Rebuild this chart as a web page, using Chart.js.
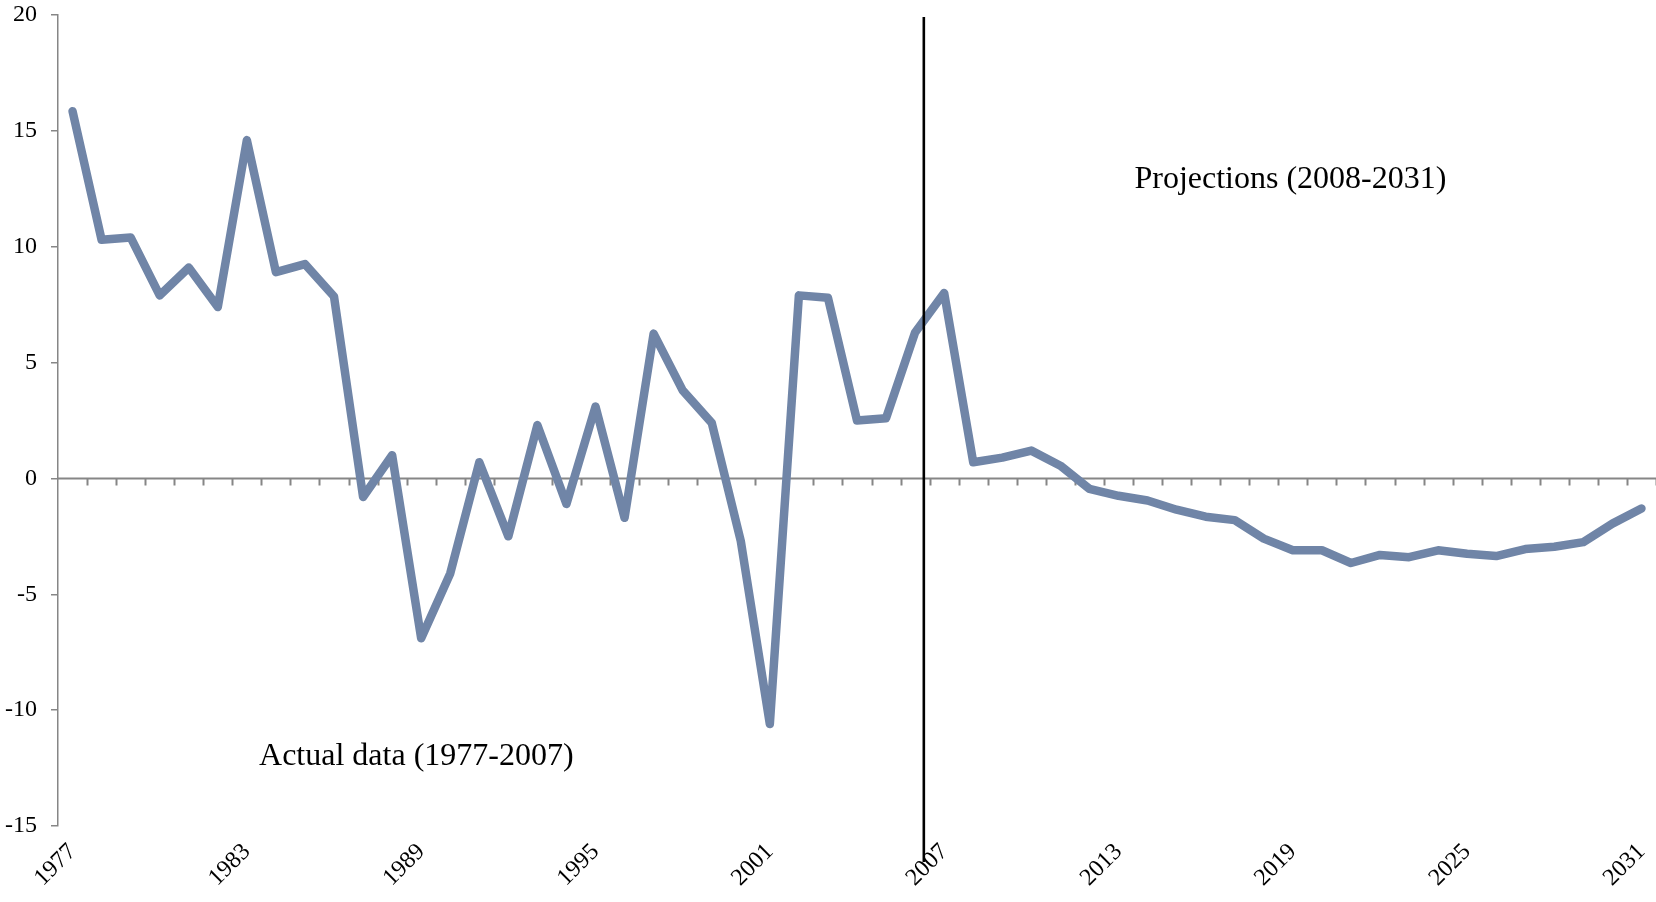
<!DOCTYPE html>
<html>
<head>
<meta charset="utf-8">
<script src="https://cdn.jsdelivr.net/npm/chart.js@4.4.1/dist/chart.umd.min.js"></script>
<style>
    html, body { margin: 0; padding: 0; background: #fff; }
    #chart { display: block; }
</style>
</head>
<body>
<canvas id="chart" width="1656" height="902"></canvas>
<script>
// Years shown on the horizontal axis
const years = [
    1977, 1978, 1979, 1980, 1981, 1982, 1983, 1984, 1985, 1986,
    1987, 1988, 1989, 1990, 1991, 1992, 1993, 1994, 1995, 1996,
    1997, 1998, 1999, 2000, 2001, 2002, 2003, 2004, 2005, 2006,
    2007, 2008, 2009, 2010, 2011, 2012, 2013, 2014, 2015, 2016,
    2017, 2018, 2019, 2020, 2021, 2022, 2023, 2024, 2025, 2026,
    2027, 2028, 2029, 2030, 2031
];

// Values (actual 1977-2007, projections 2008-2031)
const values = [
    15.85, 10.3, 10.4, 7.9, 9.1, 7.4, 14.6, 8.9, 9.25, 7.85,
    -0.8, 1.0, -6.9, -4.1, 0.7, -2.5, 2.3, -1.1, 3.1, -1.7,
    6.25, 3.8, 2.4, -2.7, -10.6, 7.9, 7.8, 2.5, 2.6, 6.3,
    8.0, 0.7, 0.9, 1.2, 0.55, -0.45, -0.75, -0.95, -1.35, -1.65,
    -1.8, -2.6, -3.1, -3.1, -3.65, -3.3, -3.4, -3.1, -3.25, -3.35,
    -3.05, -2.95, -2.75, -1.95, -1.3
];

// Labelled years and value axis range
const labelYears = [1977, 1983, 1989, 1995, 2001, 2007, 2013, 2019, 2025, 2031];
const yMin = -15;
const yMax = 20;
const yStep = 5;

// Split between actual data and projections
const splitYear = 2006.3;
const notes = [
    { text: 'Actual data (1977-2007)', x: 1983.42, y: -12.0 },
    { text: 'Projections (2008-2031)', x: 2013.55, y: 12.9 }
];

const serif = "'Liberation Serif', 'Times New Roman', serif";
const axisGray = '#868686';

// Zero line with yearly tick marks (drawn under the series)
const zeroAxisPlugin = {
    id: 'zeroAxis',
    beforeDatasetsDraw(chart) {
        const { ctx, scales: { x, y } } = chart;
        const y0 = y.getPixelForValue(0);
        ctx.save();
        ctx.strokeStyle = axisGray;
        ctx.lineWidth = 2;
        ctx.beginPath();
        ctx.moveTo(x.left, y0);
        ctx.lineTo(x.right, y0);
        for (const yr of years) {
            const px = Math.round(x.getPixelForValue(yr + 0.5)) + 0.5;
            ctx.moveTo(px, y0);
            ctx.lineTo(px, y0 + 7);
        }
        ctx.stroke();
        ctx.restore();
    },
    afterDatasetsDraw(chart) {
        const { ctx, chartArea, scales: { x, y } } = chart;
        const px = x.getPixelForValue(splitYear);
        ctx.save();
        ctx.strokeStyle = '#000';
        ctx.lineWidth = 2.6;
        ctx.beginPath();
        ctx.moveTo(px, chartArea.top + 2);
        ctx.lineTo(px, chartArea.bottom + 36);
        ctx.stroke();

        ctx.fillStyle = '#000';
        ctx.font = `32px ${serif}`;
        ctx.textAlign = 'left';
        ctx.textBaseline = 'middle';
        for (const n of notes) {
            ctx.fillText(n.text, x.getPixelForValue(n.x), y.getPixelForValue(n.y));
        }
        ctx.restore();
    }
};

new Chart(document.getElementById('chart'), {
    type: 'line',
    data: {
        datasets: [{
            data: years.map((yr, i) => ({ x: yr, y: values[i] })),
            borderColor: '#7085a7',
            borderWidth: 8.5,
            borderCapStyle: 'round',
            borderJoinStyle: 'round',
            pointRadius: 0,
            tension: 0,
            fill: false
        }]
    },
    options: {
        responsive: false,
        animation: false,
        layout: { padding: { top: 15, right: 0, left: 0, bottom: 0 } },
        plugins: {
            legend: { display: false },
            tooltip: { enabled: false }
        },
        scales: {
            x: {
                type: 'linear',
                min: years[0] - 0.5,
                max: years[years.length - 1] + 0.5,
                afterBuildTicks: (scale) => {
                    scale.ticks = labelYears.map(v => ({ value: v }));
                },
                afterFit: (scale) => {
                    scale.height = 76;
                    scale.paddingLeft = 0;
                    scale.paddingRight = 0;
                },
                grid: { display: false },
                border: { display: false },
                ticks: {
                    autoSkip: false,
                    minRotation: 45,
                    maxRotation: 45,
                    padding: 4,
                    color: '#000',
                    font: { family: serif, size: 24 },
                    callback: (v) => String(v)
                }
            },
            y: {
                min: yMin,
                max: yMax,
                afterFit: (scale) => {
                    scale.width = 58;
                    scale.paddingTop = 0;
                    scale.paddingBottom = 0;
                },
                grid: {
                    drawOnChartArea: false,
                    drawTicks: true,
                    tickLength: 7,
                    color: axisGray,
                    lineWidth: 1.5
                },
                border: { display: true, color: axisGray, width: 1.5 },
                ticks: {
                    stepSize: yStep,
                    padding: 14,
                    color: '#000',
                    font: { family: serif, size: 24 }
                }
            }
        }
    },
    plugins: [zeroAxisPlugin]
});
</script>
</body>
</html>
